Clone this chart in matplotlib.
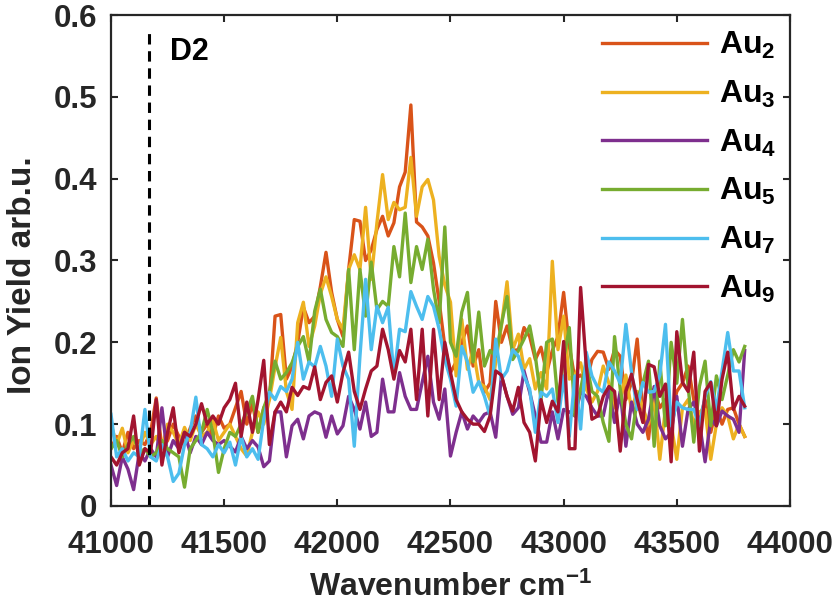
import numpy as np
import matplotlib
matplotlib.use("Agg")
import matplotlib.pyplot as plt

# Ion yield spectra of gold clusters
wavenumber = np.arange(41000, 43801, 25)

au2 = [0.070, 0.085, 0.065, 0.090, 0.070, 0.080, 0.075, 0.090, 0.132, 0.070,
       0.080, 0.100, 0.085, 0.075, 0.095, 0.110, 0.090, 0.100, 0.085, 0.110,
       0.095, 0.100, 0.120, 0.140, 0.100, 0.125, 0.090, 0.120, 0.130, 0.232,
       0.234, 0.155, 0.170, 0.200, 0.243, 0.224, 0.232, 0.268, 0.310, 0.261,
       0.228, 0.207, 0.289, 0.350, 0.348, 0.300, 0.313, 0.338, 0.354, 0.330,
       0.346, 0.390, 0.408, 0.490, 0.347, 0.341, 0.330, 0.297, 0.250, 0.195,
       0.163, 0.176, 0.200, 0.220, 0.171, 0.191, 0.139, 0.150, 0.250, 0.200,
       0.220, 0.190, 0.191, 0.218, 0.207, 0.179, 0.194, 0.163, 0.190, 0.207,
       0.261, 0.195, 0.155, 0.160, 0.151, 0.179, 0.189, 0.188, 0.167, 0.191,
       0.183, 0.130, 0.151, 0.204, 0.118, 0.082, 0.143, 0.120, 0.130, 0.110,
       0.140, 0.150, 0.171, 0.130, 0.106, 0.130, 0.090, 0.120, 0.100, 0.118,
       0.120, 0.100, 0.085]

au3 = [0.100, 0.075, 0.095, 0.065, 0.080, 0.070, 0.090, 0.075, 0.085, 0.070,
       0.100, 0.090, 0.075, 0.096, 0.080, 0.100, 0.085, 0.090, 0.105, 0.080,
       0.090, 0.100, 0.085, 0.070, 0.061, 0.090, 0.115, 0.100, 0.130, 0.170,
       0.206, 0.140, 0.118, 0.224, 0.249, 0.195, 0.220, 0.259, 0.280, 0.256,
       0.228, 0.216, 0.289, 0.307, 0.289, 0.365, 0.277, 0.346, 0.405, 0.350,
       0.371, 0.362, 0.365, 0.426, 0.354, 0.390, 0.399, 0.374, 0.305, 0.270,
       0.249, 0.159, 0.228, 0.167, 0.191, 0.151, 0.146, 0.130, 0.176, 0.220,
       0.274, 0.191, 0.210, 0.167, 0.180, 0.143, 0.163, 0.143, 0.299, 0.191,
       0.232, 0.155, 0.160, 0.175, 0.143, 0.127, 0.140, 0.171, 0.150, 0.120,
       0.130, 0.160, 0.118, 0.140, 0.120, 0.100, 0.130, 0.057, 0.120, 0.100,
       0.057, 0.120, 0.130, 0.100, 0.115, 0.118, 0.057, 0.100, 0.120, 0.110,
       0.082, 0.100, 0.085]

au4 = [0.050, 0.025, 0.060, 0.045, 0.020, 0.065, 0.055, 0.070, 0.060, 0.120,
       0.060, 0.080, 0.070, 0.090, 0.065, 0.085, 0.075, 0.090, 0.080, 0.075,
       0.080, 0.073, 0.066, 0.085, 0.070, 0.080, 0.072, 0.048, 0.055, 0.115,
       0.115, 0.060, 0.098, 0.106, 0.082, 0.110, 0.115, 0.112, 0.084, 0.110,
       0.088, 0.098, 0.134, 0.118, 0.094, 0.127, 0.085, 0.090, 0.155, 0.115,
       0.115, 0.163, 0.134, 0.118, 0.118, 0.151, 0.183, 0.127, 0.106, 0.143,
       0.061, 0.090, 0.115, 0.094, 0.110, 0.102, 0.112, 0.115, 0.084, 0.159,
       0.134, 0.112, 0.120, 0.165, 0.139, 0.110, 0.078, 0.078, 0.115, 0.082,
       0.118, 0.115, 0.110, 0.139, 0.134, 0.120, 0.110, 0.110, 0.143, 0.102,
       0.140, 0.073, 0.127, 0.100, 0.090, 0.106, 0.146, 0.098, 0.082, 0.090,
       0.134, 0.073, 0.118, 0.127, 0.102, 0.054, 0.106, 0.098, 0.116, 0.110,
       0.106, 0.090, 0.190]

au5 = [0.070, 0.080, 0.060, 0.075, 0.085, 0.065, 0.070, 0.060, 0.065, 0.080,
       0.070, 0.065, 0.060, 0.023, 0.070, 0.080, 0.090, 0.118, 0.090, 0.041,
       0.070, 0.090, 0.085, 0.100, 0.115, 0.134, 0.090, 0.120, 0.139, 0.177,
       0.155, 0.163, 0.175, 0.195, 0.207, 0.176, 0.238, 0.265, 0.228, 0.212,
       0.207, 0.195, 0.289, 0.191, 0.289, 0.232, 0.298, 0.240, 0.250, 0.244,
       0.317, 0.280, 0.358, 0.273, 0.317, 0.289, 0.326, 0.265, 0.224, 0.341,
       0.200, 0.183, 0.237, 0.261, 0.176, 0.237, 0.171, 0.190, 0.183, 0.222,
       0.256, 0.179, 0.190, 0.204, 0.220, 0.183, 0.130, 0.200, 0.204, 0.127,
       0.179, 0.218, 0.110, 0.143, 0.176, 0.140, 0.134, 0.102, 0.079, 0.207,
       0.143, 0.100, 0.082, 0.130, 0.150, 0.177, 0.073, 0.177, 0.098, 0.200,
       0.150, 0.228, 0.146, 0.078, 0.146, 0.177, 0.098, 0.159, 0.130, 0.160,
       0.191, 0.176, 0.195]

au7 = [0.112, 0.060, 0.070, 0.055, 0.065, 0.060, 0.118, 0.060, 0.055, 0.075,
       0.060, 0.030, 0.040, 0.075, 0.090, 0.133, 0.075, 0.070, 0.060, 0.075,
       0.065, 0.078, 0.050, 0.085, 0.060, 0.070, 0.057, 0.106, 0.139, 0.130,
       0.146, 0.140, 0.155, 0.200, 0.155, 0.176, 0.170, 0.195, 0.171, 0.134,
       0.204, 0.171, 0.155, 0.073, 0.183, 0.277, 0.191, 0.244, 0.224, 0.243,
       0.159, 0.216, 0.213, 0.262, 0.244, 0.228, 0.256, 0.244, 0.216, 0.179,
       0.155, 0.122, 0.195, 0.176, 0.139, 0.152, 0.134, 0.110, 0.204, 0.155,
       0.165, 0.191, 0.183, 0.159, 0.143, 0.090, 0.139, 0.134, 0.143, 0.102,
       0.159, 0.085, 0.159, 0.094, 0.188, 0.159, 0.145, 0.139, 0.176, 0.165,
       0.150, 0.222, 0.163, 0.118, 0.151, 0.139, 0.140, 0.160, 0.222, 0.098,
       0.127, 0.120, 0.118, 0.118, 0.098, 0.134, 0.152, 0.118, 0.165, 0.212,
       0.165, 0.165, 0.120]

au9 = [0.060, 0.050, 0.065, 0.070, 0.110, 0.050, 0.070, 0.065, 0.130, 0.050,
       0.090, 0.120, 0.065, 0.090, 0.085, 0.100, 0.125, 0.100, 0.110, 0.100,
       0.120, 0.130, 0.150, 0.085, 0.127, 0.090, 0.130, 0.178, 0.075, 0.115,
       0.127, 0.115, 0.145, 0.135, 0.146, 0.143, 0.170, 0.130, 0.151, 0.159,
       0.127, 0.163, 0.188, 0.140, 0.118, 0.143, 0.165, 0.171, 0.216, 0.191,
       0.155, 0.190, 0.176, 0.216, 0.130, 0.216, 0.110, 0.216, 0.130, 0.200,
       0.163, 0.130, 0.115, 0.106, 0.100, 0.100, 0.091, 0.110, 0.165, 0.160,
       0.134, 0.116, 0.145, 0.102, 0.090, 0.055, 0.130, 0.102, 0.128, 0.115,
       0.201, 0.070, 0.070, 0.267, 0.171, 0.106, 0.110, 0.134, 0.146, 0.140,
       0.067, 0.140, 0.161, 0.130, 0.102, 0.173, 0.170, 0.134, 0.149, 0.054,
       0.213, 0.151, 0.140, 0.188, 0.067, 0.140, 0.151, 0.098, 0.155, 0.188,
       0.118, 0.134, 0.122]

labels = ['Au$_2$', 'Au$_3$', 'Au$_4$', 'Au$_5$', 'Au$_7$', 'Au$_9$']
colors = ['#D95319', '#EDB120', '#7E2F8E', '#77AC30', '#4DBEEE', '#A2142F']
d2_position = 41170

plt.rcParams['font.family'] = 'Liberation Sans'
plt.rcParams['font.weight'] = 'bold'
plt.rcParams['mathtext.fontset'] = 'custom'
plt.rcParams['mathtext.rm'] = 'Liberation Sans:bold'
plt.rcParams['mathtext.it'] = 'Liberation Sans:bold'
plt.rcParams['mathtext.bf'] = 'Liberation Sans:bold'
plt.rcParams['mathtext.default'] = 'rm'

dark = '#262626'
fig = plt.figure(figsize=(8.37, 6.08), dpi=100)
ax = fig.add_axes([0.1326, 0.1678, 0.8112, 0.8075])

for series, label, color in zip([au2, au3, au4, au5, au7, au9], labels, colors):
    ax.plot(wavenumber, series, color=color, lw=2.4, label=label)

ax.plot([d2_position, d2_position], [0, 0.585], color='black', lw=2.2,
        linestyle=(0, (3.4, 2.2)))
ax.text(41260, 0.555, 'D2', fontsize=22, fontweight='bold', color='black',
        va='center', ha='left')

ax.set_xlim(41000, 44000)
ax.set_ylim(0, 0.6)
ax.set_xticks(np.arange(41000, 44001, 500))
ax.set_yticks(np.arange(0, 0.61, 0.1))
ax.set_yticklabels(['0', '0.1', '0.2', '0.3', '0.4', '0.5', '0.6'])

ax.tick_params(direction='in', length=5, width=1.5, labelsize=22.5,
               colors=dark, top=True, right=True)
ax.tick_params(axis='x', pad=17)
ax.tick_params(axis='y', pad=10)
for spine in ax.spines.values():
    spine.set_linewidth(1.6)
    spine.set_color(dark)

ax.set_xlabel('Wavenumber cm$^{-1}$', fontsize=23, fontweight='bold',
              color=dark, labelpad=9)
ax.set_ylabel('Ion Yield arb.u.', fontsize=24, fontweight='bold', color=dark)
ax.yaxis.set_label_coords(-0.108, 0.47)

ax.legend(loc='upper right', bbox_to_anchor=(0.989, 0.982), frameon=False,
          fontsize=23, handlelength=3.3, labelspacing=0.55, borderpad=0.2,
          borderaxespad=0, handletextpad=0.37)

fig.savefig('out.png', dpi=100)
